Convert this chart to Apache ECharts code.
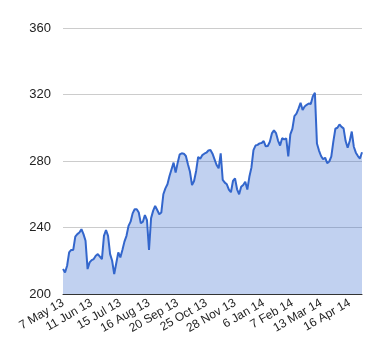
<!DOCTYPE html>
<html>
<head>
<meta charset="utf-8">
<script src="https://cdn.jsdelivr.net/npm/echarts@6/dist/echarts.min.js"></script>
<style>html,body{margin:0;padding:0;background:#fff}#c{width:380px;height:360px}</style>
</head>
<body>
<div id="c"></div>
<script>
const tickLabels = ['7 May 13','11 Jun 13','15 Jul 13','16 Aug 13','20 Sep 13','25 Oct 13','28 Nov 13','6 Jan 14','7 Feb 14','13 Mar 14','16 Apr 14'];
const yTicks = [200, 240, 280, 320, 360];
const pointsPerLabel = 14;
const values = [
215,213,217,225,226.5,226.5,234.5,236,237,239,
236,232,215,219,220.4,221,223,224,222.5,221,
235,238.5,235,224,220,212,218.5,225,222,226.5,
231.5,235,241,243.5,248.5,251,251,249,242.5,243.5,
247.5,244.5,226.5,245.5,250,253,250.5,248,249,260,
263.5,266,271,275,279,273,279,284,284.6,284.4,
283,278,273.5,265.5,268,274,282.5,281.3,283.5,284.4,
285,286.3,286.6,284.4,281,277.6,275.6,284.6,268.6,267,
266,262.8,261.2,268,269.5,263,260,264.5,265.6,267.5,
262.8,270.5,276,286.5,289.3,289.7,290.6,290.8,292,288.8,
289,291.6,296.6,298.5,296.8,292.3,289.3,293.7,293,293.6,
282.7,296,299.3,307,308.5,311.5,315,310.7,312.8,313.8,
314.6,314.3,319,321,290.5,286.3,283,281,282,278.7,
279.7,282.7,291.7,299.4,300,302,300.5,299.6,292,288,
292,297.7,288.6,285,283,281.5,285.3
];

const chart = echarts.init(document.getElementById('c'), null, {renderer: 'canvas'});
chart.setOption({
  animation: false,
  backgroundColor: '#fff',
  grid: {left: 63, right: 18, top: 28, bottom: 66, containLabel: false},
  xAxis: {
    type: 'value',
    min: 0,
    max: values.length - 1,
    interval: pointsPerLabel,
    axisLine: {show: true, lineStyle: {color: '#333', width: 1}},
    axisTick: {show: false},
    splitLine: {show: false},
    axisLabel: {
      rotate: 30,
      margin: 8,
      color: '#222',
      fontFamily: 'Liberation Sans, Arial, sans-serif',
      fontSize: 12,
      showMaxLabel: false,
      formatter: function (v) {
        const k = v / pointsPerLabel;
        return (Number.isInteger(k) && k < tickLabels.length) ? tickLabels[k] : '';
      }
    }
  },
  yAxis: {
    type: 'value',
    min: yTicks[0],
    max: yTicks[yTicks.length - 1],
    interval: yTicks[1] - yTicks[0],
    axisLine: {show: false},
    axisTick: {show: false},
    splitLine: {lineStyle: {color: '#cccccc', width: 1}},
    axisLabel: {
      margin: 12,
      color: '#222',
      fontFamily: 'Liberation Sans, Arial, sans-serif',
      fontSize: 13
    }
  },
  series: [{
    type: 'line',
    data: values.map((v, i) => [i, v]),
    showSymbol: false,
    lineStyle: {color: '#3366cc', width: 2},
    itemStyle: {color: '#3366cc'},
    areaStyle: {color: '#3366cc', opacity: 0.3}
  }]
});
</script>
</body>
</html>
